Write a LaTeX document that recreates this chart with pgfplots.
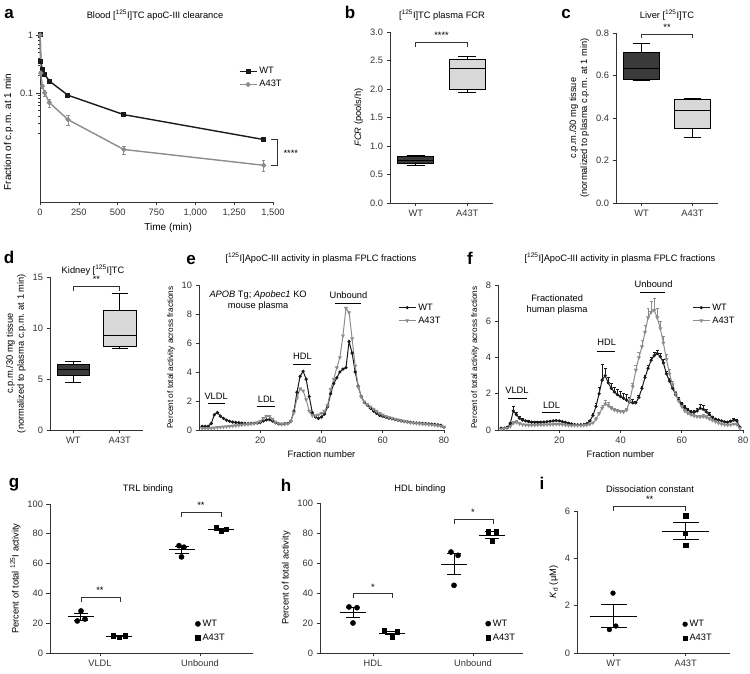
\documentclass[border=0pt]{standalone}
\usepackage{fontspec}
\setmainfont{Liberation Sans}
\usepackage{pgfplots}
\usepackage{pgfplotstable}
\pgfplotsset{compat=1.18}
\usepgfplotslibrary{statistics}

\definecolor{wtc}{HTML}{1A1A1A}
\definecolor{mutc}{HTML}{8C8C8C}
\definecolor{boxd}{HTML}{3A3A3A}
\definecolor{boxl}{HTML}{D8D8D8}
\definecolor{axc}{HTML}{333333}

\newcommand\fs{\fontsize{9.3}{11}\selectfont}
\newcommand\fss{\fontsize{8.2}{10}\selectfont}
\newcommand\fa{\fontsize{10}{12}\selectfont}
\newcommand\fl{\fontsize{17}{17}\selectfont\bfseries}

\pgfplotsset{
  panel/.style={scale only axis, anchor=south west, axis lines=left,
    axis line style={-, line width=0.6pt, axc},
    tick align=outside, tick style={line width=0.6pt, axc},
    major tick length=3.5pt, minor tick length=2pt,
    tick label style={font=\fs, text=axc}, label style={font=\fs},
    legend style={font=\fs, draw=none, fill=none},
    legend cell align=left, clip=false,
    /pgf/number format/assume math mode=true},
  brk/.style={axc, line width=0.6pt, forget plot},
}
\newcommand\seg[4]{\addplot[black, line width=1pt, forget plot] coordinates {(#1,#2)(#3,#4)};}
\newcommand\tx[4][]{\node[#1] at (#2pt,{(674-#3)*1pt}) {#4};}

% e: mouse plasma FPLC
\pgfplotstableread[row sep=\\]{f v\\1 0.25\\2 0.25\\3 0.25\\4 0.45\\5 1.05\\6 1.2\\7 0.95\\8 0.8\\9 0.68\\10 0.6\\11 0.55\\12 0.52\\13 0.5\\14 0.47\\15 0.45\\16 0.43\\17 0.45\\18 0.46\\19 0.48\\20 0.52\\21 0.62\\22 0.7\\23 0.72\\24 0.62\\25 0.5\\26 0.42\\27 0.4\\28 0.43\\29 0.45\\30 0.6\\31 1.3\\32 2.6\\33 3.7\\34 4.05\\35 3.5\\36 2.3\\37 1.2\\38 0.9\\39 0.8\\40 0.9\\41 1.1\\42 1.6\\43 2.5\\44 3.2\\45 3.6\\46 4.0\\47 4.2\\48 4.3\\49 6.1\\50 5.3\\51 4.0\\52 3.0\\53 2.3\\54 1.9\\55 1.7\\56 1.5\\57 1.3\\58 1.15\\59 1.0\\60 0.95\\61 0.88\\62 0.82\\63 0.78\\64 0.72\\65 0.68\\66 0.63\\67 0.6\\68 0.56\\69 0.53\\70 0.5\\71 0.48\\72 0.47\\73 0.45\\74 0.44\\75 0.42\\76 0.4\\77 0.38\\78 0.35\\79 0.32\\80 0.2\\}\eWT
\pgfplotstableread[row sep=\\]{f v\\1 0.12\\2 0.12\\3 0.12\\4 0.13\\5 0.15\\6 0.18\\7 0.2\\8 0.22\\9 0.24\\10 0.26\\11 0.28\\12 0.3\\13 0.32\\14 0.35\\15 0.38\\16 0.4\\17 0.42\\18 0.45\\19 0.5\\20 0.6\\21 0.8\\22 0.95\\23 0.95\\24 0.75\\25 0.55\\26 0.45\\27 0.4\\28 0.42\\29 0.45\\30 0.6\\31 1.2\\32 2.2\\33 2.85\\34 2.7\\35 2.1\\36 1.3\\37 1.0\\38 1.0\\39 1.05\\40 1.15\\41 1.3\\42 1.7\\43 2.8\\44 3.5\\45 4.3\\46 5.0\\47 6.5\\48 8.4\\49 8.1\\50 6.3\\51 4.4\\52 3.0\\53 2.3\\54 1.95\\55 1.75\\56 1.6\\57 1.45\\58 1.3\\59 1.15\\60 1.05\\61 0.95\\62 0.88\\63 0.82\\64 0.76\\65 0.7\\66 0.65\\67 0.6\\68 0.56\\69 0.52\\70 0.49\\71 0.46\\72 0.44\\73 0.42\\74 0.4\\75 0.38\\76 0.36\\77 0.33\\78 0.3\\79 0.27\\80 0.2\\}\eMut
% f: human plasma FPLC, with SEM
\pgfplotstableread[row sep=\\]{f v e\\1 0.10 0.02\\2 0.10 0.02\\3 0.15 0.03\\4 0.35 0.10\\5 1.05 0.25\\6 0.85 0.15\\7 0.65 0.10\\8 0.55 0.08\\9 0.50 0.05\\10 0.46 0.05\\11 0.43 0.04\\12 0.42 0.04\\13 0.42 0.04\\14 0.43 0.04\\15 0.44 0.04\\16 0.46 0.04\\17 0.48 0.04\\18 0.50 0.04\\19 0.52 0.04\\20 0.50 0.04\\21 0.46 0.04\\22 0.42 0.03\\23 0.37 0.03\\24 0.33 0.03\\25 0.30 0.03\\26 0.29 0.03\\27 0.29 0.03\\28 0.30 0.03\\29 0.35 0.03\\30 0.50 0.05\\31 0.80 0.10\\32 1.30 0.20\\33 2.00 0.35\\34 2.75 0.90\\35 3.00 0.40\\36 2.60 0.30\\37 2.30 0.25\\38 2.10 0.25\\39 1.95 0.30\\40 1.85 0.30\\41 1.75 0.30\\42 1.65 0.30\\43 1.55 0.25\\44 1.50 0.20\\45 1.50 0.10\\46 1.80 0.10\\47 2.30 0.10\\48 2.90 0.10\\49 3.40 0.15\\50 3.85 0.15\\51 4.10 0.20\\52 4.22 0.20\\53 4.05 0.20\\54 3.70 0.20\\55 3.10 0.15\\56 2.70 0.15\\57 2.30 0.15\\58 1.95 0.15\\59 1.65 0.15\\60 1.45 0.10\\61 1.25 0.10\\62 1.10 0.10\\63 1.00 0.10\\64 0.98 0.10\\65 1.05 0.15\\66 1.20 0.20\\67 1.15 0.20\\68 1.00 0.15\\69 0.85 0.10\\70 0.70 0.05\\71 0.60 0.05\\72 0.55 0.05\\73 0.50 0.05\\74 0.45 0.05\\75 0.43 0.05\\76 0.48 0.05\\77 0.55 0.08\\78 0.50 0.10\\79 0.15 0.02\\}\fWT
\pgfplotstableread[row sep=\\]{f v e\\1 0.05 0.02\\2 0.08 0.02\\3 0.10 0.02\\4 0.20 0.05\\5 0.38 0.10\\6 0.42 0.10\\7 0.35 0.05\\8 0.30 0.04\\9 0.28 0.03\\10 0.27 0.03\\11 0.27 0.02\\12 0.27 0.02\\13 0.28 0.02\\14 0.28 0.02\\15 0.29 0.02\\16 0.30 0.02\\17 0.30 0.02\\18 0.31 0.02\\19 0.32 0.02\\20 0.32 0.02\\21 0.30 0.02\\22 0.28 0.02\\23 0.26 0.02\\24 0.25 0.02\\25 0.25 0.02\\26 0.25 0.02\\27 0.25 0.02\\28 0.26 0.02\\29 0.28 0.02\\30 0.32 0.03\\31 0.40 0.05\\32 0.60 0.08\\33 0.90 0.10\\34 1.20 0.15\\35 1.45 0.20\\36 1.35 0.20\\37 1.20 0.10\\38 1.10 0.08\\39 1.05 0.08\\40 1.02 0.08\\41 1.00 0.08\\42 1.10 0.10\\43 1.60 0.15\\44 2.40 0.20\\45 3.30 0.25\\46 4.00 0.30\\47 4.60 0.35\\48 5.40 0.40\\49 6.20 0.50\\50 6.50 0.60\\51 6.60 0.65\\52 6.20 0.50\\53 5.60 0.40\\54 4.80 0.35\\55 3.90 0.30\\56 3.10 0.25\\57 2.50 0.20\\58 2.00 0.15\\59 1.60 0.15\\60 1.30 0.10\\61 1.05 0.10\\62 0.92 0.08\\63 0.84 0.08\\64 0.78 0.08\\65 0.74 0.08\\66 0.72 0.10\\67 0.74 0.10\\68 0.70 0.10\\69 0.62 0.08\\70 0.54 0.06\\71 0.46 0.05\\72 0.39 0.05\\73 0.33 0.04\\74 0.29 0.04\\75 0.28 0.04\\76 0.29 0.04\\77 0.33 0.05\\78 0.30 0.05\\79 0.10 0.02\\}\fMut

\begin{document}
\begin{tikzpicture}
\useasboundingbox (0pt,0pt) rectangle (750pt,674pt);

% ---------- a ----------
\begin{axis}[panel, at={(40pt,472pt)}, width=233pt, height=167pt,
    xmin=0, xmax=1500, ymode=log, ymin=0.0013, ymax=1,
    xtick={0,250,500,750,1000,1250,1500},
    xticklabels={0,250,500,750,{1,000},{1,250},{1,500}},
    ytick={0.1,1}, yticklabels={0.1,1},
    minor ytick={0.02,0.03,0.04,0.05,0.06,0.07,0.08,0.09,0.2,0.3,0.4,0.5,0.6,0.7,0.8,0.9},
    xlabel={Time (min)}, ylabel={Fraction of c.p.m. at 1 min},
    xlabel style={at={(ticklabel cs:0.55)}, font=\fa},
    ylabel style={at={(ticklabel cs:0.42)}, font=\fa},
    legend style={at={(0.84,0.83)}, anchor=north west, row sep=1pt}]
  \addplot[wtc, line width=1.4pt, mark=square*, mark size=1.8pt]
    coordinates {(1,1)(5,0.35)(15,0.25)(30,0.21)(60,0.16)(180,0.091)(540,0.042)(1440,0.0156)};
  \addlegendentry{WT}
  \addplot[mutc, line width=1.4pt, mark=*, mark size=1.8pt,
    error bars/.cd, y dir=both, y explicit,
    error bar style={line width=0.8pt, mutc}]
    coordinates {(1,1) +- (0,0) (5,0.22) +- (0,0.02) (15,0.13) +- (0,0.012) (30,0.1) +- (0,0.012)
      (60,0.068) +- (0,0.011) (180,0.0345) +- (0,0.0068) (540,0.0105) +- (0,0.0017) (1440,0.0056) +- (0,0.0012)};
  \addlegendentry{A43T}
  \addplot[brk] coordinates {(1490,0.0156)(1525,0.0156)(1525,0.0056)(1490,0.0056)};
  \node[font=\fs, anchor=west] at (axis cs:1545,0.0092) {****};
\end{axis}

% ---------- b ----------
\begin{axis}[panel, at={(390pt,471pt)}, width=103pt, height=171pt,
    xmin=0.5, xmax=2.5, ymin=0, ymax=3, xtick={1,2}, xticklabels={WT,A43T},
    ytick={0,0.5,1,1.5,2,2.5,3},
    yticklabel style={/pgf/number format/fixed, /pgf/number format/fixed zerofill, /pgf/number format/precision=1},
    ylabel={\textit{FCR} (pools/h)}, boxplot/draw direction=y]
  \addplot[black, fill=boxd, line width=0.9pt, boxplot prepared={draw position=1,
    lower whisker=0.65, lower quartile=0.69, median=0.75, upper quartile=0.81, upper whisker=0.83,
    box extend=0.7, whisker extend=0.35}] coordinates {};
  \addplot[black, fill=boxl, line width=0.9pt, boxplot prepared={draw position=2,
    lower whisker=1.94, lower quartile=2.0, median=2.36, upper quartile=2.52, upper whisker=2.57,
    box extend=0.7, whisker extend=0.35}] coordinates {};
  \addplot[brk] coordinates {(1,2.74)(1,2.82)(2,2.82)(2,2.74)};
  \node[font=\fs, anchor=south] at (axis cs:1.5,2.82) {****};
\end{axis}

% ---------- c ----------
\begin{axis}[panel, at={(616pt,471pt)}, width=102pt, height=170pt,
    xmin=0.5, xmax=2.5, ymin=0, ymax=0.8, xtick={1,2}, xticklabels={WT,A43T},
    ytick={0,0.2,0.4,0.6,0.8},
    yticklabel style={/pgf/number format/fixed, /pgf/number format/fixed zerofill, /pgf/number format/precision=1},
    ylabel={c.p.m./30 mg tissue\\(normalized to plasma c.p.m. at 1 min)}, ylabel style={align=center},
    boxplot/draw direction=y]
  \addplot[black, fill=boxd, line width=0.9pt, boxplot prepared={draw position=1,
    lower whisker=0.575, lower quartile=0.58, median=0.635, upper quartile=0.71, upper whisker=0.75,
    box extend=0.7, whisker extend=0.35}] coordinates {};
  \addplot[black, fill=boxl, line width=0.9pt, boxplot prepared={draw position=2,
    lower whisker=0.31, lower quartile=0.35, median=0.435, upper quartile=0.485, upper whisker=0.49,
    box extend=0.7, whisker extend=0.35}] coordinates {};
  \addplot[brk] coordinates {(1,0.775)(1,0.795)(2,0.795)(2,0.775)};
  \node[font=\fs, anchor=south] at (axis cs:1.5,0.795) {**};
\end{axis}

% ---------- d ----------
\begin{axis}[panel, at={(50pt,244pt)}, width=93pt, height=153pt,
    xmin=0.5, xmax=2.5, ymin=0, ymax=15, xtick={1,2}, xticklabels={WT,A43T},
    ytick={0,5,10,15},
    ylabel={c.p.m./30 mg tissue\\(normalized to plasma c.p.m. at 1 min)}, ylabel style={align=center},
    boxplot/draw direction=y]
  \addplot[black, fill=boxd, line width=0.9pt, boxplot prepared={draw position=1,
    lower whisker=4.7, lower quartile=5.3, median=5.9, upper quartile=6.4, upper whisker=6.7,
    box extend=0.7, whisker extend=0.35}] coordinates {};
  \addplot[black, fill=boxl, line width=0.9pt, boxplot prepared={draw position=2,
    lower whisker=8.0, lower quartile=8.2, median=9.3, upper quartile=11.7, upper whisker=13.4,
    box extend=0.7, whisker extend=0.35}] coordinates {};
  \addplot[brk] coordinates {(1,13.6)(1,14.1)(2,14.1)(2,13.6)};
  \node[font=\fs, anchor=south] at (axis cs:1.5,14.1) {**};
\end{axis}

% ---------- e ----------
\begin{axis}[panel, at={(199pt,244pt)}, width=245pt, height=145pt,
    xmin=0, xmax=80, ymin=0, ymax=10, xtick={20,40,60,80}, ytick={0,2,4,6,8,10},
    xlabel={Fraction number}, ylabel={Percent of total activity across fractions},
    ylabel style={font=\fss},
    legend style={at={(0.8,0.9)}, anchor=north west, row sep=1pt}]
  \addplot[wtc, line width=1pt, mark=*, mark size=1.1pt] table[x=f, y=v] {\eWT};
  \addlegendentry{WT}
  \addplot[mutc, line width=1pt, mark=triangle*, mark size=1.4pt, mark options={rotate=180}] table[x=f, y=v] {\eMut};
  \addlegendentry{A43T}
  \addplot[black, line width=1.1pt, forget plot] coordinates {(2.8,1.85)(8.5,1.85)};
  \addplot[black, line width=1.1pt, forget plot] coordinates {(18.8,1.6)(24.8,1.6)};
  \addplot[black, line width=1.1pt, forget plot] coordinates {(30.8,4.5)(36.6,4.5)};
  \addplot[black, line width=1.1pt, forget plot] coordinates {(44.4,8.7)(53,8.7)};
  \node[font=\fs] at (axis cs:5.6,2.35) {VLDL};
  \node[font=\fs] at (axis cs:22,2.15) {LDL};
  \node[font=\fs] at (axis cs:33.8,5.1) {HDL};
  \node[font=\fs] at (axis cs:48.8,9.3) {Unbound};
  \node[font=\fs, align=center] at (axis cs:19.3,8.95) {\textit{APOB} Tg; \textit{Apobec1} KO\\mouse plasma};
\end{axis}

% ---------- f ----------
\begin{axis}[panel, at={(498pt,244pt)}, width=245pt, height=145pt,
    xmin=0, xmax=80, ymin=0, ymax=8, xtick={20,40,60,80}, ytick={0,2,4,6,8},
    xlabel={Fraction number}, ylabel={Percent of total activity across fractions},
    ylabel style={font=\fss},
    legend style={at={(0.78,0.9)}, anchor=north west, row sep=1pt}]
  \addplot[wtc, line width=1pt, mark=*, mark size=1.1pt,
    error bars/.cd, y dir=plus, y explicit, error bar style={line width=0.6pt, wtc},
    error mark options={rotate=90, mark size=1.4pt, line width=0.6pt, wtc}]
    table[x=f, y=v, y error=e] {\fWT};
  \addlegendentry{WT}
  \addplot[mutc, line width=1pt, mark=triangle*, mark size=1.4pt, mark options={rotate=180},
    error bars/.cd, y dir=plus, y explicit, error bar style={line width=0.6pt, mutc},
    error mark options={rotate=90, mark size=1.4pt, line width=0.6pt, mutc}]
    table[x=f, y=v, y error=e] {\fMut};
  \addlegendentry{A43T}
  \addplot[black, line width=1.1pt, forget plot] coordinates {(3.3,1.74)(9.5,1.74)};
  \addplot[black, line width=1.1pt, forget plot] coordinates {(14.3,0.96)(20.3,0.96)};
  \addplot[black, line width=1.1pt, forget plot] coordinates {(32.2,4.35)(38.2,4.35)};
  \addplot[black, line width=1.1pt, forget plot] coordinates {(46.4,7.57)(54.6,7.57)};
  \node[font=\fs] at (axis cs:6.2,2.2) {VLDL};
  \node[font=\fs] at (axis cs:17.5,1.35) {LDL};
  \node[font=\fs] at (axis cs:35.5,4.85) {HDL};
  \node[font=\fs] at (axis cs:50.8,8.05) {Unbound};
  \node[font=\fs, align=center] at (axis cs:19.3,6.9) {Fractionated\\human plasma};
\end{axis}

% ---------- g ----------
\begin{axis}[panel, at={(50pt,21pt)}, width=203pt, height=149pt,
    xmin=0.5, xmax=2.53, ymin=0, ymax=100, xtick={1,2}, xticklabels={VLDL,Unbound},
    ytick={0,20,40,60,80,100}, ylabel={Percent of total \textsuperscript{125}I activity},
    legend style={at={(0.70,0.25)}, anchor=north west, row sep=2pt}]
  \addplot[only marks, mark=*, mark size=2.6pt, black]
    coordinates {(0.773,21.5)(0.81,28.2)(0.85,22.8)(1.79,72)(1.84,71)(1.815,64.5)};
  \addlegendentry{WT}
  \addplot[only marks, mark=square*, mark size=2.3pt, black]
    coordinates {(1.13,11.6)(1.19,10.5)(1.25,11.8)(2.16,84)(2.21,82)(2.26,83)};
  \addlegendentry{A43T}
  \seg{0.68}{24.2}{0.94}{24.2}\seg{0.74}{22.1}{0.88}{22.1}\seg{0.74}{26.2}{0.88}{26.2}\seg{0.81}{22.1}{0.81}{26.2}
  \seg{1.06}{11.3}{1.32}{11.3}\seg{1.12}{10.9}{1.26}{10.9}\seg{1.12}{11.7}{1.26}{11.7}
  \seg{1.685}{69.2}{1.945}{69.2}\seg{1.745}{66.8}{1.885}{66.8}\seg{1.745}{71.5}{1.885}{71.5}\seg{1.815}{66.8}{1.815}{71.5}
  \seg{2.08}{83}{2.34}{83}\seg{2.14}{82.4}{2.28}{82.4}\seg{2.14}{83.6}{2.28}{83.6}
  \addplot[brk] coordinates {(0.81,34.5)(0.81,37.5)(1.2,37.5)(1.2,34.5)};
  \node[font=\fs, anchor=south] at (axis cs:1.0,37.5) {**};
  \addplot[brk] coordinates {(1.815,91.4)(1.815,94.4)(2.21,94.4)(2.21,91.4)};
  \node[font=\fs, anchor=south] at (axis cs:2.01,94.4) {**};
\end{axis}

% ---------- h ----------
\begin{axis}[panel, at={(320pt,21pt)}, width=203pt, height=150pt,
    xmin=0.47, xmax=2.5, ymin=0, ymax=100, xtick={1,2}, xticklabels={HDL,Unbound},
    ytick={0,20,40,60,80,100}, ylabel={Percent of total activity},
    legend style={at={(0.80,0.25)}, anchor=north west, row sep=2pt}]
  \addplot[only marks, mark=*, mark size=2.6pt, black]
    coordinates {(0.76,30.7)(0.84,30.2)(0.80,20)(1.78,67.3)(1.85,65.1)(1.81,45.1)};
  \addlegendentry{WT}
  \addplot[only marks, mark=square*, mark size=2.3pt, black]
    coordinates {(1.11,15.1)(1.19,10.7)(1.24,14)(2.15,80.7)(2.23,80.7)(2.19,74.4)};
  \addlegendentry{A43T}
  \seg{0.67}{27.0}{0.93}{27.0}\seg{0.73}{23.5}{0.87}{23.5}\seg{0.73}{30.5}{0.87}{30.5}\seg{0.80}{23.5}{0.80}{30.5}
  \seg{1.06}{13.3}{1.32}{13.3}\seg{1.12}{12.0}{1.26}{12.0}\seg{1.12}{14.6}{1.26}{14.6}
  \seg{1.68}{59.2}{1.94}{59.2}\seg{1.74}{52.1}{1.88}{52.1}\seg{1.74}{66.2}{1.88}{66.2}\seg{1.81}{52.1}{1.81}{66.2}
  \seg{2.06}{78.6}{2.32}{78.6}\seg{2.12}{76.5}{2.26}{76.5}\seg{2.12}{80.7}{2.26}{80.7}
  \addplot[brk] coordinates {(0.8,36.5)(0.8,39.6)(1.19,39.6)(1.19,36.5)};
  \node[font=\fs, anchor=south] at (axis cs:1.0,39.6) {*};
  \addplot[brk] coordinates {(1.81,86.2)(1.81,89)(2.2,89)(2.2,86.2)};
  \node[font=\fs, anchor=south] at (axis cs:2.0,89) {*};
\end{axis}

% ---------- i ----------
\begin{axis}[panel, at={(577pt,21pt)}, width=153pt, height=142pt,
    xmin=0.49, xmax=2.615, ymin=0, ymax=6, xtick={1,2}, xticklabels={WT,A43T},
    ytick={0,2,4,6}, ylabel={\textit{K}\textsubscript{d} (μM)},
    legend style={at={(0.67,0.26)}, anchor=north west, row sep=2pt}]
  \addplot[only marks, mark=*, mark size=2.4pt, black]
    coordinates {(0.94,0.99)(1.03,1.14)(0.99,2.53)};
  \addlegendentry{WT}
  \addplot[only marks, mark=square*, mark size=2.2pt, black]
    coordinates {(2.0,5.8)(1.99,5.07)(2.0,4.55)};
  \addlegendentry{A43T}
  \seg{0.67}{1.55}{1.33}{1.55}\seg{0.82}{1.06}{1.18}{1.06}\seg{0.82}{2.04}{1.18}{2.04}\seg{1.0}{1.06}{1.0}{2.04}
  \seg{1.67}{5.14}{2.33}{5.14}\seg{1.82}{4.78}{2.18}{4.78}\seg{1.82}{5.5}{2.18}{5.5}\seg{2.0}{4.78}{2.0}{5.5}
  \addplot[brk] coordinates {(1,6.02)(1,6.21)(2,6.21)(2,6.02)};
  \node[font=\fs, anchor=south] at (axis cs:1.5,6.21) {**};
\end{axis}

% ---------- titles and panel letters ----------
\tx[font=\fs]{155}{15}{Blood [\textsuperscript{125}I]TC apoC-III clearance}
\tx[font=\fs]{442}{15}{[\textsuperscript{125}I]TC plasma FCR}
\tx[font=\fs]{667}{15}{Liver [\textsuperscript{125}I]TC}
\tx[font=\fs]{93}{270}{Kidney [\textsuperscript{125}I]TC}
\tx[font=\fs]{321}{258}{[\textsuperscript{125}I]ApoC-III activity in plasma FPLC fractions}
\tx[font=\fs]{620}{258}{[\textsuperscript{125}I]ApoC-III activity in plasma FPLC fractions}
\tx[font=\fs]{148}{489}{TRL binding}
\tx[font=\fs]{420}{489}{HDL binding}
\tx[font=\fs]{650}{489}{Dissociation constant}
\tx[font=\fl]{9}{14}{a}
\tx[font=\fl]{350}{12}{b}
\tx[font=\fl]{566}{14}{c}
\tx[font=\fl]{9}{257}{d}
\tx[font=\fl]{191}{260}{e}
\tx[font=\fl]{470}{258}{f}
\tx[font=\fl]{14}{485}{g}
\tx[font=\fl]{286}{485}{h}
\tx[font=\fl]{542}{483}{i}
\end{tikzpicture}
\end{document}
